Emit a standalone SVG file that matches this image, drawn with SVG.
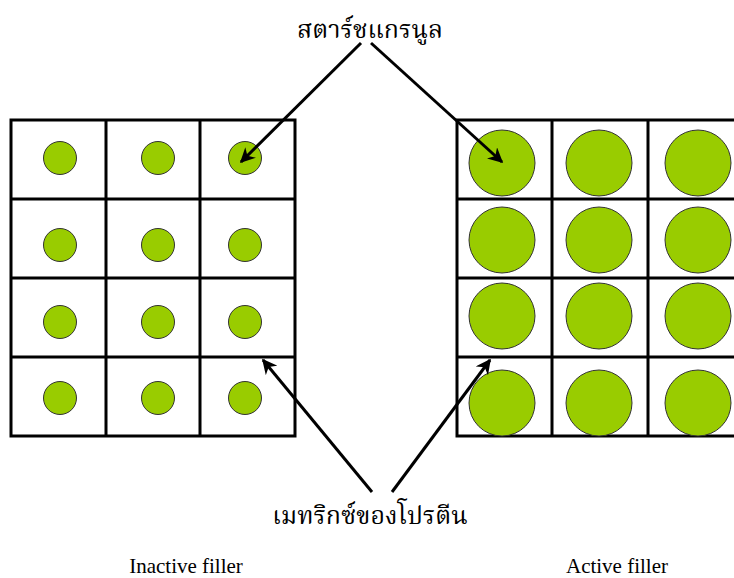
<svg xmlns="http://www.w3.org/2000/svg" width="734" height="578" viewBox="0 0 734 578">
<style>
.grid{fill:none;stroke:#000;stroke-width:3}
.g{fill:#99CC00;stroke:#333;stroke-width:1}
.c{stroke:#000;stroke-width:3;fill:none}
.th{font-family:"Liberation Serif","Noto Serif Thai","Noto Sans Thai",serif;font-size:25px;fill:#000}
.lb{font-family:"Liberation Serif",serif;font-size:21px;fill:#000}
</style>
<defs>
<marker id="ah" viewBox="0 0 10 10" refX="9" refY="5" markerWidth="5" markerHeight="5" orient="auto" markerUnits="strokeWidth">
<path d="M0,0 L10,5 L0,10 L3,5 z" fill="#000"/>
</marker>
</defs>
<rect width="734" height="578" fill="#fff"/>
<g id="inactive-grid">
<path class="grid" d="M11,120 H295 V436 H11 Z M106,120 V436 M200,120 V436 M11,199 H295 M11,278 H295 M11,357 H295"/>
<circle class="g" cx="60" cy="158" r="16.5"/><circle class="g" cx="158" cy="158" r="16.5"/><circle class="g" cx="245" cy="158" r="16.5"/>
<circle class="g" cx="60" cy="245" r="16.5"/><circle class="g" cx="158" cy="245" r="16.5"/><circle class="g" cx="245" cy="245" r="16.5"/>
<circle class="g" cx="60" cy="322" r="16.5"/><circle class="g" cx="158" cy="322" r="16.5"/><circle class="g" cx="245" cy="322" r="16.5"/>
<circle class="g" cx="60" cy="398" r="16.5"/><circle class="g" cx="158" cy="398" r="16.5"/><circle class="g" cx="245" cy="398" r="16.5"/>
</g>
<g id="active-grid">
<path class="grid" d="M736,120 H457 V436 H736 M552,120 V436 M648,120 V436 M457,199 H736 M457,278 H736 M457,357 H736"/>
<circle class="g" cx="502" cy="163" r="33"/><circle class="g" cx="599" cy="163" r="33"/><circle class="g" cx="698" cy="163" r="33"/>
<circle class="g" cx="502" cy="240" r="33"/><circle class="g" cx="599" cy="240" r="33"/><circle class="g" cx="698" cy="240" r="33"/>
<circle class="g" cx="502" cy="316" r="33"/><circle class="g" cx="599" cy="316" r="33"/><circle class="g" cx="698" cy="316" r="33"/>
<circle class="g" cx="502" cy="403" r="33"/><circle class="g" cx="599" cy="403" r="33"/><circle class="g" cx="698" cy="403" r="33"/>
</g>
<g id="connectors">
<line class="c" x1="361" y1="43" x2="241" y2="162" marker-end="url(#ah)"/>
<line class="c" x1="371" y1="43" x2="502" y2="162" marker-end="url(#ah)"/>
<line class="c" x1="372" y1="492" x2="263" y2="360" marker-end="url(#ah)"/>
<line class="c" x1="392" y1="492" x2="490" y2="360" marker-end="url(#ah)"/>
</g>
<g id="label-starch">
<text class="th" x="370" y="38" text-anchor="middle">สตาร์ชแกรนูล</text>
</g>
<g id="label-protein">
<text class="th" x="370" y="524" text-anchor="middle">เมทริกซ์ของโปรตีน</text>
</g>
<g id="label-inactive">
<text class="lb" x="186" y="573" text-anchor="middle">Inactive filler</text>
</g>
<g id="label-active">
<text class="lb" x="617" y="573" text-anchor="middle">Active filler</text>
</g>
</svg>
